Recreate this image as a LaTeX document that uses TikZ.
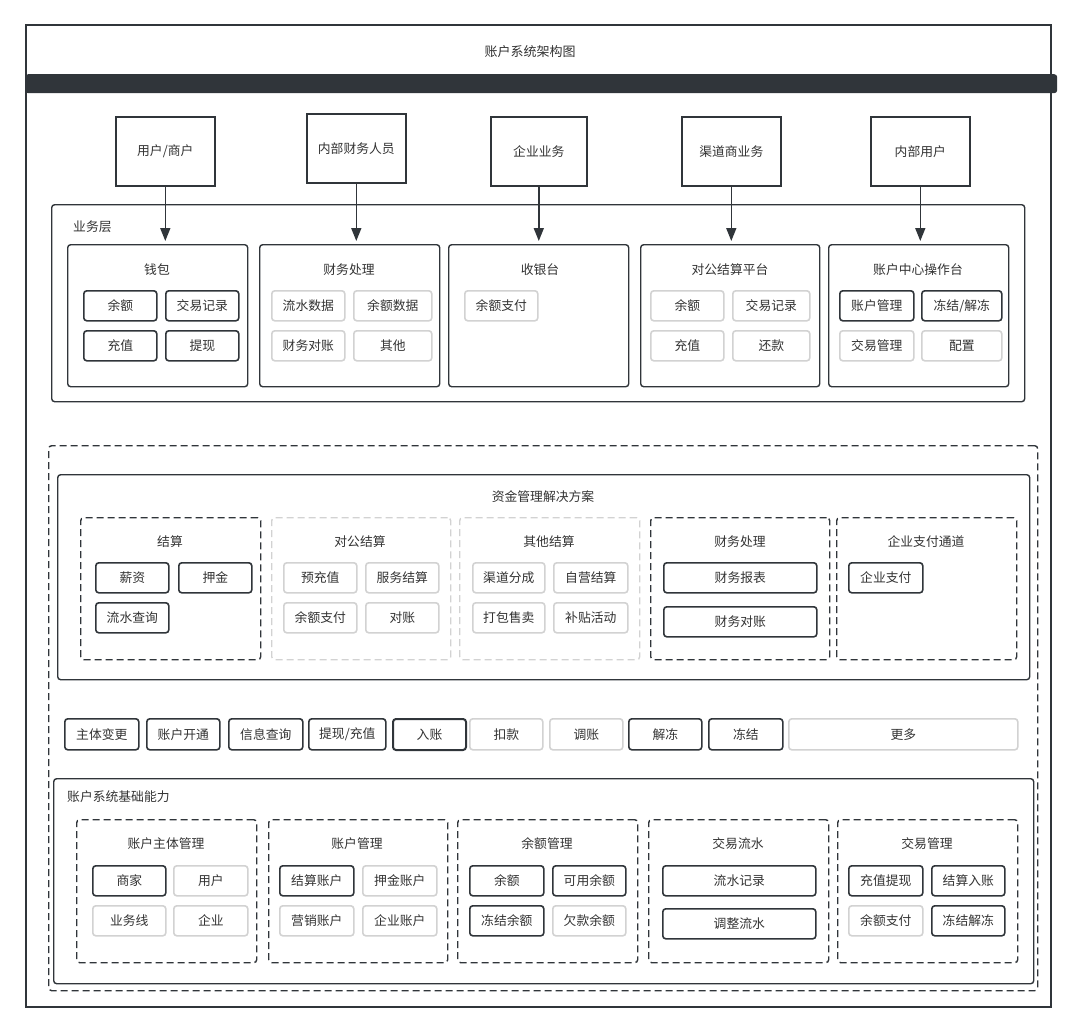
\documentclass[tikz,border=0pt]{standalone}
\usepackage{fontspec}
\setmainfont{Noto Sans CJK SC}
\usetikzlibrary{arrows.meta}
\definecolor{dk}{HTML}{30353A}
\definecolor{lt}{HTML}{D2D2D2}
\definecolor{tx}{HTML}{333333}
\tikzset{
 base/.style={rectangle, inner sep=0pt, text=tx, font=\fontsize{12.8}{15}\selectfont},
 dkitem/.style={base, draw=dk, line width=1.6pt, rounded corners=3pt, fill=white},
 ltitem/.style={base, draw=lt, line width=1.6pt, rounded corners=3pt, fill=white},
 topbox/.style={base, draw=dk, line width=1.6pt, fill=white},
 panel/.style={base, draw=dk, line width=1.4pt, rounded corners=3pt},
 dkdash/.style={base, draw=dk, line width=1.4pt, rounded corners=3pt, dash pattern=on 7pt off 4pt},
 ltdash/.style={base, draw=lt, line width=1.4pt, rounded corners=3pt, dash pattern=on 7pt off 4pt},
 ttl/.style={base},
 lbl/.style={base, anchor=west},
 arr/.style={draw=dk, line width=1.6pt, shorten >=3pt, -{Triangle[length=13pt,width=10pt]}},
}
\newcommand\bx[7]{\node[#1, anchor=north west, minimum width={#5-#3}, minimum height={#6-#4}] (#2) at (#3,#4) {#7};}
\begin{document}
\begin{tikzpicture}[x=1pt,y=-1pt]
\useasboundingbox[fill=white] (0,0) rectangle (1080,1031);
% outer frame and title bar
\bx{topbox}{frame}{25}{24}{1050}{1006}{}
\node[ttl, font=\fontsize{13}{15}\selectfont] (title) at (530,52) {账户系统架构图};
\node[anchor=north west, fill=dk, rounded corners=3pt, minimum width=1032pt, minimum height=19pt, inner sep=0pt] (bar) at (25,74) {};
% top actors
\bx{topbox}{u1}{115}{116}{214}{185}{用户/商户}
\bx{topbox}{u2}{306}{113}{405}{182}{内部财务人员}
\bx{topbox}{u3}{490}{116}{586}{185}{企业业务}
\bx{topbox}{u4}{681}{116}{780}{185}{渠道商业务}
\bx{topbox}{u5}{870}{116}{969}{185}{内部用户}
% business layer
\bx{panel}{biz}{51}{204}{1024}{401}{}
\node[lbl] (bizlbl) at (73,227) {业务层};
\bx{panel}{wallet}{67}{244}{247}{386}{}
\bx{panel}{fin}{259}{244}{439}{386}{}
\bx{panel}{cash}{448}{244}{628}{386}{}
\bx{panel}{corp}{640}{244}{819}{386}{}
\bx{panel}{acct}{828}{244}{1008}{386}{}
\node[ttl] (wallett) at (157,270) {钱包};
\node[ttl] (fint) at (349,270) {财务处理};
\node[ttl] (casht) at (540,270) {收银台};
\node[ttl] (corpt) at (730,270) {对公结算平台};
\node[ttl] (acctt) at (918,270) {账户中心操作台};
\bx{dkitem}{w1}{83}{290}{156}{320}{余额}
\bx{dkitem}{w2}{165}{290}{238}{320}{交易记录}
\bx{dkitem}{w3}{83}{330}{156}{360}{充值}
\bx{dkitem}{w4}{165}{330}{238}{360}{提现}
\bx{ltitem}{f1}{271}{290}{344}{320}{流水数据}
\bx{ltitem}{f2}{353}{290}{431}{320}{余额数据}
\bx{ltitem}{f3}{271}{330}{344}{360}{财务对账}
\bx{ltitem}{f4}{353}{330}{431}{360}{其他}
\bx{ltitem}{c1}{464}{290}{537}{320}{余额支付}
\bx{ltitem}{p1}{650}{290}{723}{320}{余额}
\bx{ltitem}{p2}{732}{290}{809}{320}{交易记录}
\bx{ltitem}{p3}{650}{330}{723}{360}{充值}
\bx{ltitem}{p4}{732}{330}{809}{360}{还款}
\bx{dkitem}{a1}{839}{290}{913}{320}{账户管理}
\bx{dkitem}{a2}{921}{290}{1001}{320}{冻结/解冻}
\bx{ltitem}{a3}{839}{330}{913}{360}{交易管理}
\bx{ltitem}{a4}{921}{330}{1001}{360}{配置}
% arrows
\draw[arr] (u1.south) -- (u1.south |- wallet.north);
\draw[arr] (u2.south) -- (u2.south |- fin.north);
\draw[arr] (u3.south) -- (u3.south |- cash.north);
\draw[arr] (u4.south) -- (u4.south |- corp.north);
\draw[arr] (u5.south) -- (u5.south |- acct.north);
% lower dashed region
\bx{dkdash}{lower}{48}{445}{1037}{990}{}
\bx{panel}{fund}{57}{474}{1029}{679}{}
\node[ttl] (fundt) at (543,497) {资金管理解决方案};
\bx{dkdash}{s1}{80}{517}{260}{659}{}
\bx{ltdash}{s2}{271}{517}{450}{659}{}
\bx{ltdash}{s3}{459}{517}{639}{659}{}
\bx{dkdash}{s4}{650}{517}{829}{659}{}
\bx{dkdash}{s5}{836}{517}{1016}{659}{}
\node[ttl] (s1t) at (170,542) {结算};
\node[ttl] (s2t) at (360,542) {对公结算};
\node[ttl] (s3t) at (549,542) {其他结算};
\node[ttl] (s4t) at (740,542) {财务处理};
\node[ttl] (s5t) at (926,542) {企业支付通道};
\bx{dkitem}{x1}{95}{562}{168}{592}{薪资}
\bx{dkitem}{x2}{178}{562}{251}{592}{押金}
\bx{dkitem}{x3}{95}{602}{168}{632}{流水查询}
\bx{ltitem}{y1}{283}{562}{356}{592}{预充值}
\bx{ltitem}{y2}{365}{562}{438}{592}{服务结算}
\bx{ltitem}{y3}{283}{602}{356}{632}{余额支付}
\bx{ltitem}{y4}{365}{602}{438}{632}{对账}
\bx{ltitem}{z1}{472}{562}{544}{592}{渠道分成}
\bx{ltitem}{z2}{553}{562}{627}{592}{自营结算}
\bx{ltitem}{z3}{472}{602}{544}{632}{打包售卖}
\bx{ltitem}{z4}{553}{602}{627}{632}{补贴活动}
\bx{dkitem}{q1}{663}{562}{816}{592}{财务报表}
\bx{dkitem}{q2}{663}{606}{816}{636}{财务对账}
\bx{dkitem}{e1}{848}{562}{922}{592}{企业支付}
% operation row
\bx{dkitem}{o1}{64}{718}{138}{749}{主体变更}
\bx{dkitem}{o2}{146}{718}{219}{749}{账户开通}
\bx{dkitem}{o3}{228}{718}{302}{749}{信息查询}
\bx{dkitem}{o4}{308}{718}{385}{749}{提现/充值}
\bx{dkitem, line width=2pt}{o5}{392}{718}{465}{749}{入账}
\bx{ltitem}{o6}{469}{718}{542}{749}{扣款}
\bx{ltitem}{o7}{549}{718}{622}{749}{调账}
\bx{dkitem}{o8}{628}{718}{701}{749}{解冻}
\bx{dkitem}{o9}{708}{718}{782}{749}{冻结}
\bx{ltitem}{o10}{788}{718}{1017}{749}{更多}
% base capabilities
\bx{panel}{basep}{53}{778}{1033}{983}{}
\node[lbl] (baselbl) at (67,797) {账户系统基础能力};
\bx{dkdash}{b1}{76}{819}{256}{962}{}
\bx{dkdash}{b2}{268}{819}{447}{962}{}
\bx{dkdash}{b3}{457}{819}{637}{962}{}
\bx{dkdash}{b4}{648}{819}{828}{962}{}
\bx{dkdash}{b5}{837}{819}{1017}{962}{}
\node[ttl] (b1t) at (166,844) {账户主体管理};
\node[ttl] (b2t) at (357,844) {账户管理};
\node[ttl] (b3t) at (547,844) {余额管理};
\node[ttl] (b4t) at (738,844) {交易流水};
\node[ttl] (b5t) at (927,844) {交易管理};
\bx{dkitem}{g1}{92}{865}{165}{895}{商家}
\bx{ltitem}{g2}{173}{865}{247}{895}{用户}
\bx{ltitem}{g3}{92}{905}{165}{935}{业务线}
\bx{ltitem}{g4}{173}{905}{247}{935}{企业}
\bx{dkitem}{h1}{279}{865}{353}{895}{结算账户}
\bx{ltitem}{h2}{362}{865}{436}{895}{押金账户}
\bx{ltitem}{h3}{279}{905}{353}{935}{营销账户}
\bx{ltitem}{h4}{362}{905}{436}{935}{企业账户}
\bx{dkitem}{i1}{469}{865}{543}{895}{余额}
\bx{dkitem}{i2}{552}{865}{625}{895}{可用余额}
\bx{dkitem}{i3}{469}{905}{543}{935}{冻结余额}
\bx{ltitem}{i4}{552}{905}{625}{935}{欠款余额}
\bx{dkitem}{j1}{662}{865}{815}{895}{流水记录}
\bx{dkitem}{j2}{662}{908}{815}{938}{调整流水}
\bx{dkitem}{k1}{848}{865}{922}{895}{充值提现}
\bx{dkitem}{k2}{931}{865}{1004}{895}{结算入账}
\bx{ltitem}{k3}{848}{905}{922}{935}{余额支付}
\bx{dkitem}{k4}{931}{905}{1004}{935}{冻结解冻}
\end{tikzpicture}
\end{document}
